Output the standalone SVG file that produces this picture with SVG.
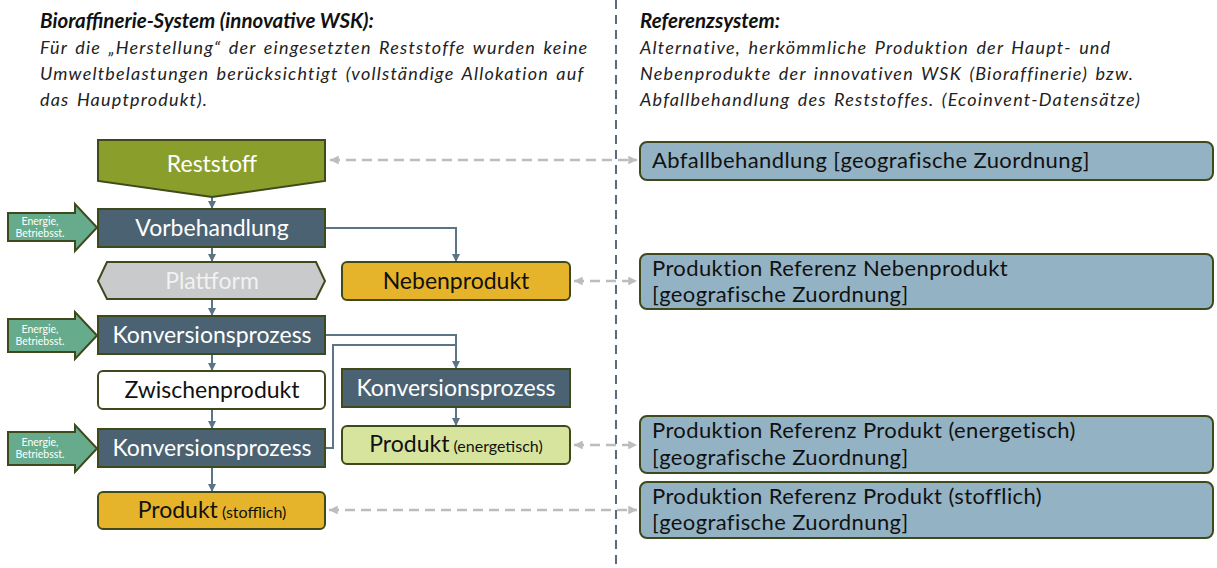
<svg xmlns="http://www.w3.org/2000/svg" width="1217" height="568" viewBox="0 0 1217 568">
  <defs>
    <marker id="arr" viewBox="0 0 10 10" refX="10" refY="5" markerWidth="4" markerHeight="4" orient="auto">
      <path d="M0,0 L10,5 L0,10 z" fill="#5b7486"/>
    </marker>
    <marker id="garr" viewBox="0 0 10 10" refX="10" refY="5" markerWidth="3.5" markerHeight="3.5" orient="auto-start-reverse">
      <path d="M0,0 L10,5 L0,10 z" fill="#bdbdbd"/>
    </marker>
    <style>
      .title { font-family: Lato, "Liberation Sans", sans-serif; font-style: italic; font-weight: bold; font-size: 20.5px; fill: #111; }
      .sub { font-family: Lato, "Liberation Sans", sans-serif; font-style: italic; font-size: 18px; letter-spacing: 1.2px; word-spacing: 2px; fill: #222; }
      .lbl { font-family: Lato, "Liberation Sans", sans-serif; font-size: 23px; text-anchor: middle; }
      .ref { font-family: Lato, "Liberation Sans", sans-serif; font-size: 22px; letter-spacing: 0.4px; fill: #111; }
      .en { font-family: Lato, "Liberation Sans", sans-serif; font-size: 10.5px; fill: #fff; text-anchor: middle; }
      .edge { stroke: #3f4a1c; stroke-width: 2; }
      .proc { fill: #4b6272; }
      .energy { fill: #66ab8c; }
      .refbox { fill: #93b3c4; }
      .flow { fill: none; stroke: #5b7486; stroke-width: 2; }
      .link { fill: none; stroke: #bdbdbd; stroke-width: 2.5; stroke-dasharray: 10 6; }
    </style>
  </defs>

  <!-- headings -->
  <g id="heading-left">
    <text class="title" x="40" y="28">Bioraffinerie-System (innovative WSK):</text>
    <text class="sub" x="40" y="54">Für die „Herstellung“ der eingesetzten Reststoffe wurden keine</text>
    <text class="sub" x="40" y="80">Umweltbelastungen berücksichtigt (vollständige Allokation auf</text>
    <text class="sub" x="40" y="106">das Hauptprodukt).</text>
  </g>
  <g id="heading-right">
    <text class="title" x="640" y="28">Referenzsystem:</text>
    <text class="sub" x="640" y="54">Alternative, herkömmliche Produktion der Haupt- und</text>
    <text class="sub" x="640" y="80">Nebenprodukte der innovativen WSK (Bioraffinerie) bzw.</text>
    <text class="sub" x="640" y="106">Abfallbehandlung des Reststoffes. (Ecoinvent-Datensätze)</text>
  </g>

  <!-- divider between the two systems -->
  <line x1="616" y1="0" x2="616" y2="568" stroke="#5b6b7b" stroke-width="2" stroke-dasharray="9 6"/>

  <!-- connectors -->
  <g id="connectors">
    <line class="flow" x1="212" y1="197" x2="212" y2="209" marker-end="url(#arr)"/>
    <line class="flow" x1="212" y1="247" x2="212" y2="262" marker-end="url(#arr)"/>
    <line class="flow" x1="212" y1="299" x2="212" y2="316" marker-end="url(#arr)"/>
    <line class="flow" x1="212" y1="354" x2="212" y2="371" marker-end="url(#arr)"/>
    <line class="flow" x1="212" y1="409" x2="212" y2="429" marker-end="url(#arr)"/>
    <line class="flow" x1="212" y1="467" x2="212" y2="492" marker-end="url(#arr)"/>
    <polyline class="flow" points="325,228 456,228 456,262" marker-end="url(#arr)"/>
    <polyline class="flow" points="325,335 456,335 456,369" marker-end="url(#arr)"/>
    <polyline class="flow" points="325,448 333,448 333,345 456,345"/>
    <line class="flow" x1="456" y1="407" x2="456" y2="426" marker-end="url(#arr)"/>

    <line class="link" x1="330" y1="160" x2="637" y2="160" marker-start="url(#garr)" marker-end="url(#garr)"/>
    <line class="link" x1="574" y1="281" x2="637" y2="281" marker-start="url(#garr)" marker-end="url(#garr)"/>
    <line class="link" x1="574" y1="445" x2="637" y2="445" marker-start="url(#garr)" marker-end="url(#garr)"/>
    <line class="link" x1="329" y1="510" x2="637" y2="510" marker-start="url(#garr)" marker-end="url(#garr)"/>
  </g>

  <!-- left system -->
  <g id="reststoff">
    <path class="edge" d="M98,140 H325 V181 L212,197 L98,181 Z" fill="#8a9e2b"/>
    <text class="lbl" x="212" y="172" fill="#fff">Reststoff</text>
  </g>
  <g id="energie-1">
    <path class="edge energy" d="M8,213 H75 V204 L97,227.5 L75,251 V241 H8 Z"/>
    <text class="en" x="40" y="225">Energie,</text>
    <text class="en" x="40" y="237">Betriebsst.</text>
  </g>
  <g id="vorbehandlung">
    <rect class="edge proc" x="98" y="209" width="227" height="38"/>
    <text class="lbl" x="212" y="236" fill="#fff">Vorbehandlung</text>
  </g>
  <g id="plattform">
    <path class="edge" d="M107,262 H316 L325,281 L316,299 H107 L98,281 Z" fill="#c9cacb"/>
    <text class="lbl" x="212" y="289" fill="#f2f2f2">Plattform</text>
  </g>
  <g id="nebenprodukt">
    <rect class="edge" x="342" y="262" width="228" height="38" rx="5" fill="#e6b42a"/>
    <text class="lbl" x="456" y="289" fill="#111">Nebenprodukt</text>
  </g>
  <g id="energie-2">
    <path class="edge energy" d="M8,319 H75 V312 L97,335.5 L75,359 V352 H8 Z"/>
    <text class="en" x="40" y="333">Energie,</text>
    <text class="en" x="40" y="345">Betriebsst.</text>
  </g>
  <g id="konversion-1">
    <rect class="edge proc" x="98" y="316" width="227" height="38"/>
    <text class="lbl" x="212" y="343" fill="#fff">Konversionsprozess</text>
  </g>
  <g id="zwischenprodukt">
    <rect class="edge" x="98" y="371" width="227" height="38" rx="5" fill="#fff"/>
    <text class="lbl" x="212" y="398" fill="#111">Zwischenprodukt</text>
  </g>
  <g id="energie-3">
    <path class="edge energy" d="M8,432 H75 V425 L97,448.5 L75,472 V465 H8 Z"/>
    <text class="en" x="40" y="446">Energie,</text>
    <text class="en" x="40" y="458">Betriebsst.</text>
  </g>
  <g id="konversion-2">
    <rect class="edge proc" x="98" y="429" width="227" height="38"/>
    <text class="lbl" x="212" y="456" fill="#fff">Konversionsprozess</text>
  </g>
  <g id="produkt-stofflich">
    <rect class="edge" x="98" y="492" width="227" height="37" rx="5" fill="#e6b42a"/>
    <text class="lbl" x="212" y="518" fill="#111">Produkt<tspan font-size="16px"> (stofflich)</tspan></text>
  </g>
  <g id="konversion-3">
    <rect class="edge proc" x="342" y="369" width="228" height="38"/>
    <text class="lbl" x="456" y="396" fill="#fff">Konversionsprozess</text>
  </g>
  <g id="produkt-energetisch">
    <rect class="edge" x="342" y="426" width="228" height="38" rx="5" fill="#d7e49d"/>
    <text class="lbl" x="456" y="452" fill="#111">Produkt<tspan font-size="16px"> (energetisch)</tspan></text>
  </g>

  <!-- reference system -->
  <g id="ref-abfall">
    <rect class="edge refbox" x="640" y="142" width="573" height="38" rx="7"/>
    <text class="ref" x="652" y="168">Abfallbehandlung [geografische Zuordnung]</text>
  </g>
  <g id="ref-nebenprodukt">
    <rect class="edge refbox" x="640" y="254" width="573" height="55" rx="7"/>
    <text class="ref" x="652" y="276">Produktion Referenz Nebenprodukt</text>
    <text class="ref" x="652" y="302">[geografische Zuordnung]</text>
  </g>
  <g id="ref-energetisch">
    <rect class="edge refbox" x="640" y="416" width="573" height="57" rx="7"/>
    <text class="ref" x="652" y="438">Produktion Referenz Produkt (energetisch)</text>
    <text class="ref" x="652" y="465">[geografische Zuordnung]</text>
  </g>
  <g id="ref-stofflich">
    <rect class="edge refbox" x="640" y="482" width="573" height="56" rx="7"/>
    <text class="ref" x="652" y="504">Produktion Referenz Produkt (stofflich)</text>
    <text class="ref" x="652" y="530">[geografische Zuordnung]</text>
  </g>
</svg>
